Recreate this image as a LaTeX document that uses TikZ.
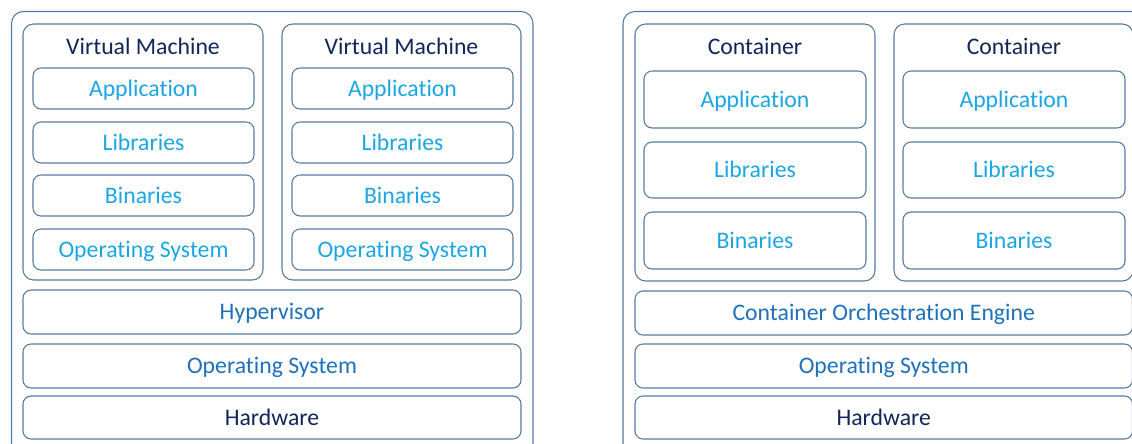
\documentclass[tikz,border=0pt]{standalone}
\usepackage{fontspec}
\setmainfont{Carlito}[Ligatures=NoCommon]
\usetikzlibrary{fit}
\definecolor{edgec}{RGB}{84,122,158}
\definecolor{navy}{RGB}{16,38,88}
\definecolor{cyanblue}{RGB}{27,165,226}
\definecolor{midblue}{RGB}{30,112,185}
\begin{document}
\begin{tikzpicture}[x=0.75pt,y=-0.75pt,
  box/.style={draw=edgec, line width=0.8pt, rounded corners=#1, inner sep=0pt},
  box/.default=6pt,
  txt/.style={font=\fontsize{17.8}{20}\selectfont, inner sep=0pt, text height=11.6pt, text depth=0pt},
  ltxt/.style={txt, text=cyanblue},
  btxt/.style={txt, text=midblue},
  ntxt/.style={txt, text=navy}
]
\useasboundingbox (0,0) rectangle (1132,443);
\clip (0,0) rectangle (1132,443);
% ---------- left: virtual machines ----------
\node[box=9pt, fit={(11.5,11.5) (533,470)}] (outerL) {};
\node[box=8pt, fit={(23,24) (263,280)}] (vm1) {};
\node[box=8pt, fit={(282,24) (521,280)}] (vm2) {};
\node[ntxt] (vm1t) at (143,46.5) {Virtual Machine};
\node[ntxt] (vm2t) at (401.5,46.5) {Virtual Machine};
\node[box, fit={(33,68) (254,109)}] (vm1a) {};
\node[box, fit={(33,122) (254,163)}] (vm1l) {};
\node[box, fit={(33,175) (254,216)}] (vm1b) {};
\node[box, fit={(33,229) (254,270)}] (vm1o) {};
\node[box, fit={(292,68) (513,109)}] (vm2a) {};
\node[box, fit={(292,122) (513,163)}] (vm2l) {};
\node[box, fit={(292,175) (513,216)}] (vm2b) {};
\node[box, fit={(292,229) (513,270)}] (vm2o) {};
\node[ltxt] (vm1at) at (vm1a.center) {Application};
\node[ltxt] (vm1lt) at (vm1l.center) {Libraries};
\node[ltxt] (vm1bt) at (vm1b.center) {Binaries};
\node[ltxt] (vm1ot) at (vm1o.center) {Operating System};
\node[ltxt] (vm2at) at (vm2a.center) {Application};
\node[ltxt] (vm2lt) at (vm2l.center) {Libraries};
\node[ltxt] (vm2bt) at (vm2b.center) {Binaries};
\node[ltxt] (vm2ot) at (vm2o.center) {Operating System};
\node[box, fit={(23,290) (521,334)}] (hyp) {};
\node[box, fit={(23,344) (521,388)}] (osL) {};
\node[box, fit={(23,396) (521,439)}] (hwL) {};
\node[btxt] (hypt) at (hyp.center) {Hypervisor};
\node[btxt] (osLt) at (osL.center) {Operating System};
\node[ntxt] (hwLt) at (hwL.center) {Hardware};
% ---------- right: containers ----------
\node[box=9pt, fit={(623,11.5) (1160,470)}] (outerR) {};
\node[box=8pt, fit={(635,24) (875,281)}] (c1) {};
\node[box=8pt, fit={(894,24) (1133,281)}] (c2) {};
\node[ntxt] (c1t) at (755,46.5) {Container};
\node[ntxt] (c2t) at (1014,46.5) {Container};
\node[box, fit={(644,71) (866,128)}] (c1a) {};
\node[box, fit={(644,142) (866,198)}] (c1l) {};
\node[box, fit={(644,212) (866,269)}] (c1b) {};
\node[box, fit={(903,71) (1125,128)}] (c2a) {};
\node[box, fit={(903,142) (1125,198)}] (c2l) {};
\node[box, fit={(903,212) (1125,269)}] (c2b) {};
\node[ltxt] (c1at) at (c1a.center) {Application};
\node[ltxt] (c1lt) at (c1l.center) {Libraries};
\node[ltxt] (c1bt) at (c1b.center) {Binaries};
\node[ltxt] (c2at) at (c2a.center) {Application};
\node[ltxt] (c2lt) at (c2l.center) {Libraries};
\node[ltxt] (c2bt) at (c2b.center) {Binaries};
\node[box, fit={(635,291) (1132.5,335)}] (coe) {};
\node[box, fit={(635,344) (1132.5,388)}] (osR) {};
\node[box, fit={(635,396) (1132.5,439)}] (hwR) {};
\node[btxt] (coet) at (coe.center) {Container Orchestration Engine};
\node[btxt] (osRt) at (osR.center) {Operating System};
\node[ntxt] (hwRt) at (hwR.center) {Hardware};
\end{tikzpicture}
\end{document}
